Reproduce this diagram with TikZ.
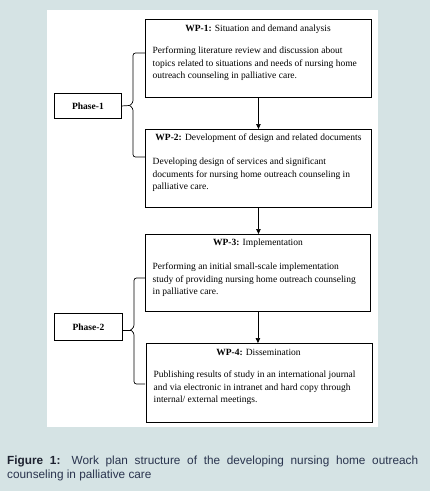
\documentclass[tikz,border=0pt]{standalone}
\usepackage{fontspec}
\setmainfont{Liberation Serif}
\newfontfamily\capfont{Liberation Sans}
\usetikzlibrary{arrows.meta}
\definecolor{bgcol}{RGB}{213,227,228}
\definecolor{captxt}{RGB}{42,52,78}
\definecolor{capbold}{RGB}{30,34,48}
\begin{document}
\begin{tikzpicture}[x=1pt,y=-1pt,
  wpbox/.style={draw=black,line width=0.9pt,anchor=north west,inner sep=0pt},
  phbox/.style={draw=black,line width=0.9pt,anchor=north west,inner sep=0pt,font=\fontsize{9.5}{11}\selectfont\bfseries},
  wptitle/.style={inner sep=0pt,font=\fontsize{9.5}{11}\selectfont},
  wpbody/.style={anchor=north west,align=left,inner sep=0pt,font=\fontsize{9.5}{12.5}\selectfont},
  conn/.style={line width=0.7pt,black},
  brace/.style={line width=0.7pt,black,rounded corners=2.5pt},
  arr/.style={line width=0.7pt,black,-{Triangle[length=5pt,width=4.5pt]}},
  caption/.style={anchor=north west,inner sep=0pt,text width=411pt,align=justify,
    font=\capfont\fontsize{11.8}{14}\selectfont,text=captxt}]
\fill[bgcol] (0,0) rectangle (430,491);
\useasboundingbox (0,0) rectangle (430,491);
\fill[white] (47,10) rectangle (378,427);

% work-package boxes
\node[wpbox,minimum width=226pt,minimum height=78pt] (wp1) at (145,19) {};
\node[wpbox,minimum width=226pt,minimum height=78pt] (wp2) at (145,129) {};
\node[wpbox,minimum width=225pt,minimum height=77pt] (wp3) at (145,234) {};
\node[wpbox,minimum width=226pt,minimum height=79pt] (wp4) at (146,343) {};

% titles
\node[wptitle] (t1) at (258,29) {\textbf{WP-1:} Situation and demand analysis};
\node[wptitle] (t2) at (258.5,138.5) {\textbf{WP-2:} Development of design and related documents};
\node[wptitle] (t3) at (258,243.5) {\textbf{WP-3:} Implementation};
\node[wptitle] (t4) at (258.5,352.5) {\textbf{WP-4:} Dissemination};

% bodies
\node[wpbody] (d1) at (152.5,47) {Performing literature review and discussion about\\topics related to situations and needs of nursing home\\outreach counseling in palliative care.};
\node[wpbody] (d2) at (152.5,158) {Developing design of services and significant\\documents for nursing home outreach counseling in\\palliative care.};
\node[wpbody] (d3) at (152.5,263) {Performing an initial small-scale implementation\\study of providing nursing home outreach counseling\\in palliative care.};
\node[wpbody] (d4) at (153.5,371) {Publishing results of study in an international journal\\and via electronic in intranet and hard copy through\\internal/ external meetings.};

% phase boxes
\node[phbox,minimum width=67pt,minimum height=25pt] (ph1) at (54,93) {Phase-1};
\node[phbox,minimum width=68pt,minimum height=27pt] (ph2) at (54,313) {Phase-2};

% arrows
\draw[arr] (wp1.south) -- (wp1.south |- wp2.north);
\draw[arr] (wp2.south) -- (wp2.south |- wp3.north);
\draw[arr] (wp3.south) -- (wp3.south |- wp4.north);

% brace for phase 1
\coordinate (b1a) at (145,53);
\coordinate (b1b) at (145,157);
\coordinate (b1t) at (129.5,105.5);
\draw[brace] (b1a) -- (133,53) -- (133,103) -- (b1t);
\draw[brace] (b1b) -- (133,157) -- (133,108) -- (b1t);
\draw[conn] (ph1.east) -- (b1t);

% brace for phase 2
\coordinate (b2a) at (145,278);
\coordinate (b2b) at (145,384);
\coordinate (b2t) at (130.5,330);
\draw[brace] (b2a) -- (134,278) -- (134,327.5) -- (b2t);
\draw[brace] (b2b) -- (134,384) -- (134,332.5) -- (b2t);
\draw[conn] (ph2.east |- b2t) -- (b2t);

% caption
\node[caption] (cap) at (7,456) {{\color{capbold}\textbf{Figure 1:}} Work plan structure of the developing nursing home outreach\linebreak \mbox{counseling} in palliative care};
\end{tikzpicture}
\end{document}
